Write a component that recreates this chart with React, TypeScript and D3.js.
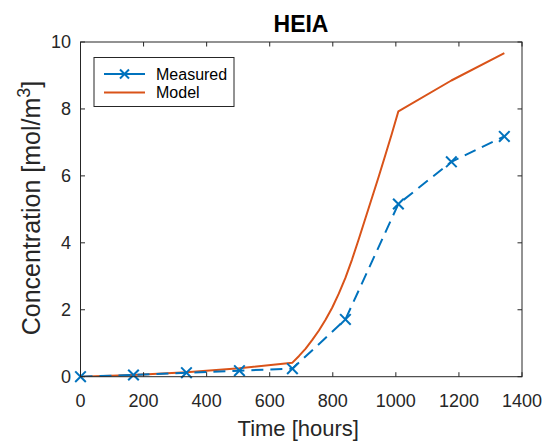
import React from "react";
import * as d3 from "d3";

const measuredX = [0, 168, 336, 504, 672, 840, 1008, 1176, 1344];
const measuredY = [0, 0.05, 0.12, 0.18, 0.24, 1.71, 5.16, 6.42, 7.18];

const modelX = [0, 168, 336, 504, 672, 693, 714, 735, 756, 777, 798, 819, 840, 861, 882, 903, 924, 945, 966, 987, 1008, 1176, 1344];
const modelY = [0, 0.05, 0.13, 0.25, 0.42, 0.62, 0.84, 1.1, 1.38, 1.7, 2.06, 2.48, 2.95, 3.5, 4.1, 4.72, 5.34, 5.96, 6.6, 7.25, 7.93, 8.85, 9.67];

const xTicks = [0, 200, 400, 600, 800, 1000, 1200, 1400];
const yTicks = [0, 2, 4, 6, 8, 10];

const W = 547, H = 442;
const L = 80.5, R = 522, T = 42, B = 376.7;
const AX = "#262626";
const FONT = "'Liberation Sans', Arial, Helvetica, sans-serif";
const C1 = "#0072BD", C2 = "#D95319";

function XMark({ x, y, s = 5.3, color }: { x: number; y: number; s?: number; color: string }) {
  return (
    <g stroke={color} strokeWidth={2}>
      <line x1={x - s} y1={y - s} x2={x + s} y2={y + s} />
      <line x1={x - s} y1={y + s} x2={x + s} y2={y - s} />
    </g>
  );
}

export default function App() {
  const x = d3.scaleLinear().domain([0, 1400]).range([L, R]);
  const y = d3.scaleLinear().domain([0, 10]).range([B, T]);
  const line = d3.line<[number, number]>().x(d => x(d[0])).y(d => y(d[1]));
  const meas: [number, number][] = measuredX.map((v, i) => [v, measuredY[i]]);
  const mod: [number, number][] = modelX.map((v, i) => [v, modelY[i]]);
  const tl = 4.5;
  return (
    <svg width={W} height={H} style={{ position: "absolute", left: 0, top: 0, background: "#fff" }} fontFamily={FONT}>
      <rect x={0} y={0} width={W} height={H} fill="#fff" />
      <defs>
        <clipPath id="clip"><rect x={L} y={T} width={R - L} height={B - T} /></clipPath>
      </defs>
      <g clipPath="url(#clip)">
        <path d={line(mod) || ""} fill="none" stroke={C2} strokeWidth={2} strokeLinejoin="round" />
        <path d={line(meas) || ""} fill="none" stroke={C1} strokeWidth={2} strokeDasharray="12,7" />
      </g>
      {meas.map((d, i) => <XMark key={i} x={x(d[0])} y={y(d[1])} color={C1} />)}
      <rect x={L} y={T} width={R - L} height={B - T} fill="none" stroke={AX} strokeWidth={1} />
      {xTicks.map(t => (
        <g key={"x" + t}>
          <line x1={x(t)} x2={x(t)} y1={B} y2={B - tl} stroke={AX} />
          <line x1={x(t)} x2={x(t)} y1={T} y2={T + tl} stroke={AX} />
          <text x={x(t)} y={407} textAnchor="middle" fontSize={18} fill={AX}>{t}</text>
        </g>
      ))}
      {yTicks.map(t => (
        <g key={"y" + t}>
          <line x1={L} x2={L + tl} y1={y(t)} y2={y(t)} stroke={AX} />
          <line x1={R} x2={R - tl} y1={y(t)} y2={y(t)} stroke={AX} />
          <text x={71} y={y(t)} dy="0.36em" textAnchor="end" fontSize={18} fill={AX}>{t}</text>
        </g>
      ))}
      <text x={(L + R) / 2 - 3} y={436} textAnchor="middle" fontSize={22} fill={AX}>Time [hours]</text>
      <text transform={`translate(40,208) rotate(-90)`} textAnchor="middle" fontSize={25} fill={AX}>
        Concentration [mol/m<tspan dy={-10} fontSize={18}>3</tspan><tspan dy={10}>]</tspan>
      </text>
      <text x={301} y={32} textAnchor="middle" fontSize={23} fontWeight="bold" fill="#000">HEIA</text>
      <rect x={94} y={57.5} width={140} height={49} fill="#fff" stroke={AX} strokeWidth={1} />
      <line x1={104} x2={145} y1={74} y2={74} stroke={C1} strokeWidth={2} />
      <XMark x={124.5} y={74} s={4.5} color={C1} />
      <text x={156} y={74} dy="0.36em" fontSize={16} fill="#000">Measured</text>
      <line x1={104} x2={145} y1={92.5} y2={92.5} stroke={C2} strokeWidth={2} />
      <text x={156} y={92.5} dy="0.36em" fontSize={16} fill="#000">Model</text>
    </svg>
  );
}
